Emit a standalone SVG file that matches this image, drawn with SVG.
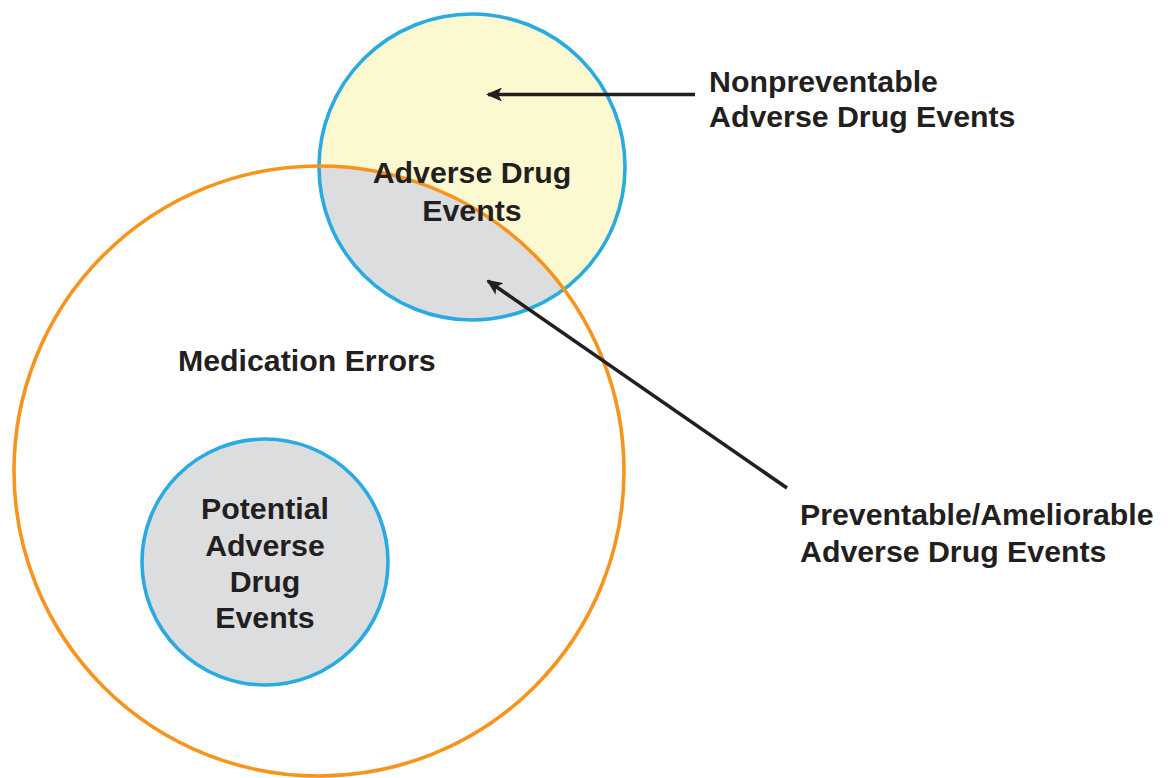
<svg xmlns="http://www.w3.org/2000/svg" width="1173" height="778" viewBox="0 0 1173 778">
<style>
.lbl{font-family:"Liberation Sans",Arial,sans-serif;font-weight:bold;font-size:30.3px;fill:#231F20}
.mid{text-anchor:middle}
.blue{fill:none;stroke:#29ABE2;stroke-width:3.6}
.orange{fill:none;stroke:#F7941D;stroke-width:3.6}
.conn{stroke:#231F20;stroke-width:3.6;fill:none}
</style>
<defs>
<clipPath id="medClip"><circle cx="319" cy="471" r="305"/></clipPath>
<marker id="arr" viewBox="0 0 16 14" refX="14" refY="7" markerWidth="16" markerHeight="14" markerUnits="userSpaceOnUse" orient="auto">
<path d="M16,7 L0,0 L4,7 L0,14 Z" fill="#231F20"/>
</marker>
</defs>
<rect width="1173" height="778" fill="#ffffff"/>
<g id="ade">
<circle cx="472" cy="167" r="153" fill="#FCF8CF"/>
<circle cx="472" cy="167" r="153" fill="#DCDDDF" clip-path="url(#medClip)"/>
<circle class="blue" cx="472" cy="167" r="153"/>
</g>
<g id="medication-errors">
<circle class="orange" cx="319" cy="471" r="305"/>
<text class="lbl" x="178" y="371">Medication Errors</text>
</g>
<g id="ade-label">
<text class="lbl mid" x="472" y="183">Adverse Drug</text>
<text class="lbl mid" x="472" y="221">Events</text>
</g>
<g id="potential-ade">
<circle cx="265" cy="562" r="123" fill="#DCDDDF"/>
<circle class="blue" cx="265" cy="562" r="123"/>
<text class="lbl mid" x="265" y="519">Potential</text>
<text class="lbl mid" x="265" y="556">Adverse</text>
<text class="lbl mid" x="265" y="592">Drug</text>
<text class="lbl mid" x="265" y="628">Events</text>
</g>
<g id="nonpreventable">
<text class="lbl" x="709" y="92">Nonpreventable</text>
<text class="lbl" x="709" y="127">Adverse Drug Events</text>
</g>
<g id="preventable">
<text class="lbl" x="800" y="525">Preventable/Ameliorable</text>
<text class="lbl" x="800" y="562">Adverse Drug Events</text>
</g>
<g id="connectors">
<line class="conn" x1="695" y1="94.5" x2="488" y2="94.5" marker-end="url(#arr)"/>
<line class="conn" x1="787" y1="488" x2="488" y2="281" marker-end="url(#arr)"/>
</g>
</svg>
